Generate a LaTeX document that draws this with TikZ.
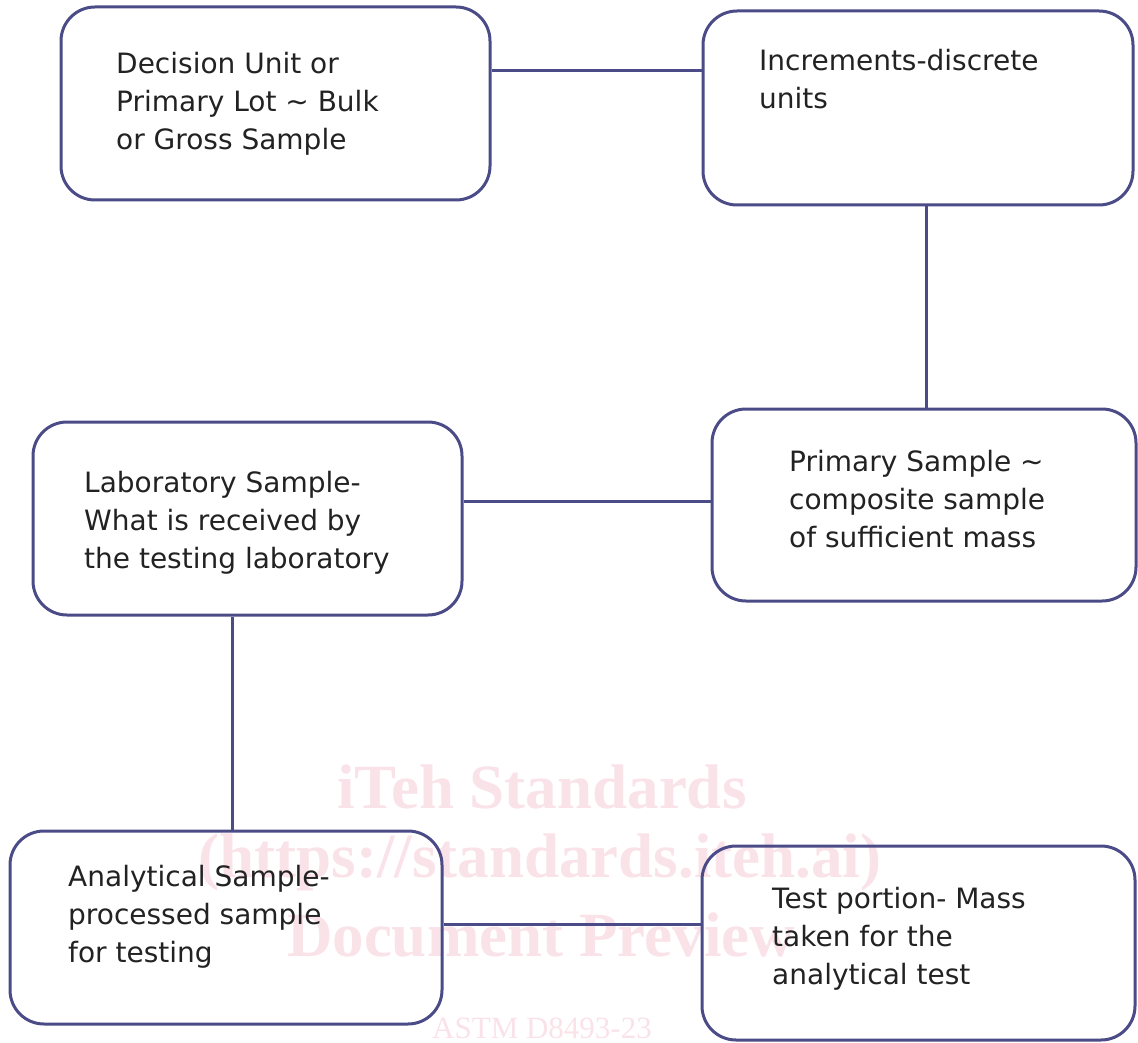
\documentclass[tikz,border=0pt]{standalone}
\usepackage{fontspec}
\setmainfont{DejaVu Sans}
\newfontfamily\wmfont{Liberation Serif}
\usetikzlibrary{calc}
\definecolor{boxline}{RGB}{75,75,135}
\definecolor{inktext}{RGB}{34,34,34}
\definecolor{wmpink}{RGB}{250,226,233}

\begin{document}
\begin{tikzpicture}[
      x=1pt,
      y=-1pt,
      stage/.style={
        draw=boxline,
        line width=3pt,
        rounded corners=34pt,
        inner sep=0pt
      },
      link/.style={
        draw=boxline,
        line width=3pt
      },
      txt/.style={
        text=inktext,
        align=left,
        inner sep=0pt,
        font=\fontsize{28}{38}\selectfont
      },
      watermark/.style={
        text=wmpink,
        inner sep=0pt
      }
    ]
      \useasboundingbox (0,0) rectangle (1138,1043);

      % watermark
      \node[watermark,font=\wmfont\bfseries\fontsize{63}{70}\selectfont] (wm1) at (542,787) {iTeh Standards};
      \node[watermark,font=\wmfont\bfseries\fontsize{63}{70}\selectfont] (wm2) at (540,862) {(https://standards.iteh.ai)};
      \node[watermark,font=\wmfont\bfseries\fontsize{63}{70}\selectfont] (wm3) at (541,935) {Document Preview};
      \node[watermark,font=\wmfont\fontsize{31}{34}\selectfont] (wm4) at (542,1028) {ASTM D8493-23};

      \foreach \n/\xa/\ya/\xb/\yb in {dec/61/7/490/200,inc/703/11/1133/205,prim/712/409/1136/601,lab/33/422/462/615,ana/10/831/442/1024,test/702/846/1135/1040}
        \node[stage,minimum width={(\xb-\xa)*1pt},minimum height={(\yb-\ya)*1pt}] (\n) at ({(\xa+\xb)/2},{(\ya+\yb)/2}) {};

      % base = last line
      \node[txt,anchor=base west] (dec-t) at (116,150) {Decision Unit or\\Primary Lot \textasciitilde{} Bulk\\or Gross Sample};
      \node[txt,anchor=base west] (inc-t) at (759,109) {Increments-discrete\\units};
      \node[txt,anchor=base west] (prim-t) at (789,547) {Primary Sample \textasciitilde\\composite sample\\of sufficient mass};
      \node[txt,anchor=base west] (lab-t) at (84,568) {Laboratory Sample-\\What is received by\\the testing laboratory};
      \node[txt,anchor=base west] (ana-t) at (68,962) {Analytical Sample-\\processed sample\\for testing};
      \node[txt,anchor=base west] (test-t) at (772,984) {Test portion- Mass\\taken for the\\analytical test};

      \draw[link] ([yshift=32.5pt]dec.east) -- ([yshift=32.5pt]dec.east -| inc.west);
      \draw[link] ([xshift=8pt]inc.south) -- ([xshift=8pt]inc.south |- prim.north);
      \draw[link] ([yshift=4pt]prim.west) -- ([yshift=4pt]prim.west -| lab.east);
      \draw[link] ([xshift=-15.5pt]lab.south) -- ([xshift=-15.5pt]lab.south |- ana.north);
      \draw[link] ([yshift=3.5pt]ana.east) -- ([yshift=3.5pt]ana.east -| test.west);
    \end{tikzpicture}
\end{document}
